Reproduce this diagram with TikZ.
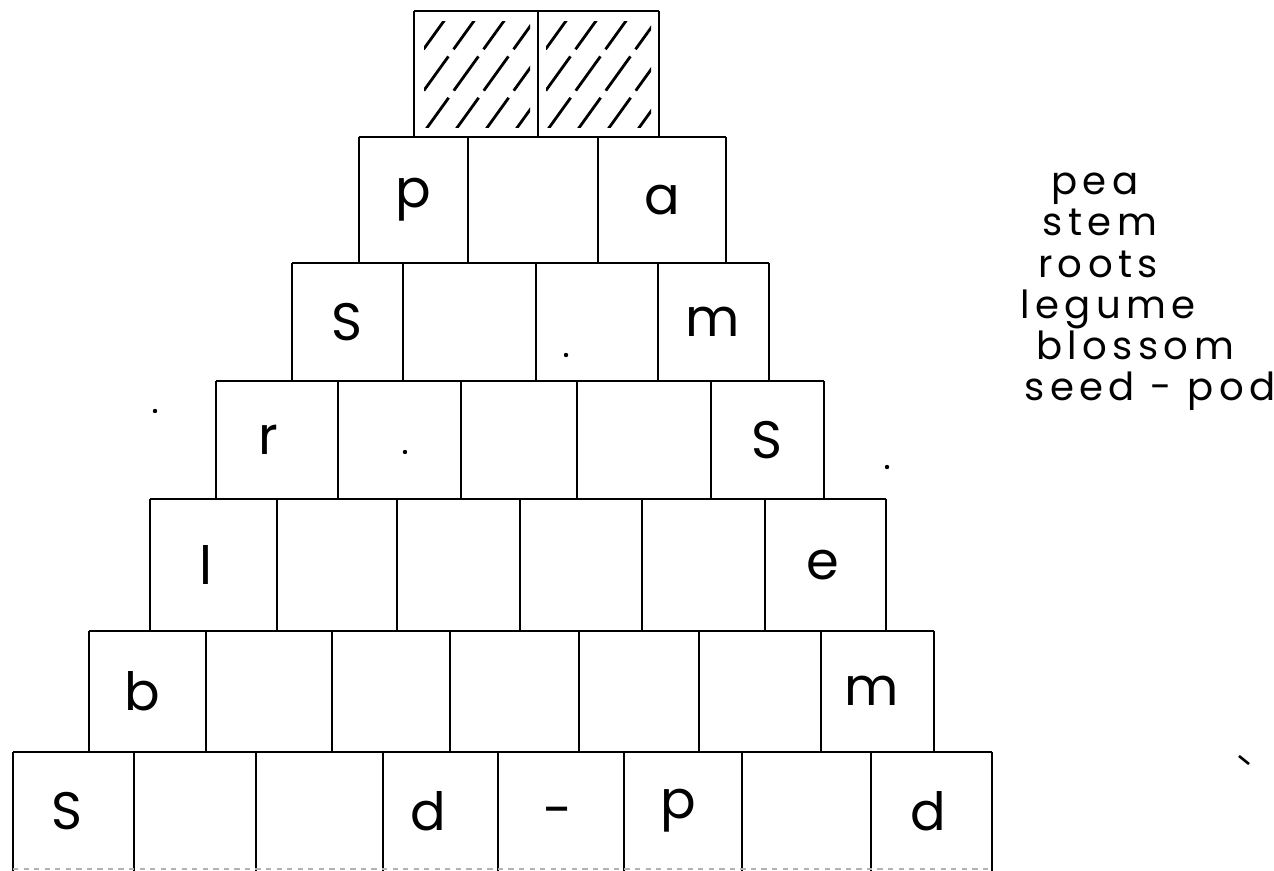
\documentclass[tikz,border=0pt]{standalone}
\usepackage{fontspec}
\usetikzlibrary{positioning}
\newfontfamily\handfont{Poppins}
\newfontfamily\listfont{Poppins}[LetterSpace=14]

\tikzset{
  cellline/.style={line width=1.4pt},
  letter/.style={font=\handfont\fontsize{30}{30}\selectfont, inner sep=0pt},
  word/.style={font=\listfont\fontsize{22}{22}\selectfont, inner sep=0pt, anchor=base},
  hatch/.style={line width=1.6pt, dash pattern=on 24pt off 5pt},
  speck/.style={fill=black, draw=none},
}

\begin{document}
\begin{tikzpicture}[x=0.02cm,y=-0.02cm]
\useasboundingbox (0,0) rectangle (1274,871);

% pyramid of cells: top / bottom / left / right / cell edges
\foreach \ya/\yb/\xl/\xr/\edges in {
    11/137/414/659/{414,538,659},
    137/263/359/726/{359,468,598,726},
    263/381/292/769/{292,403,536,658,769},
    381/499/216/824/{216,338,461,577,711,824},
    499/631/150/886/{150,277,397,520,642,765,886},
    631/752/89/934/{89,206,332,450,579,699,821,934},
    752/871/13/992/{13,134,256,383,498,624,742,871,992}}{
  \draw[cellline] (\xl,\ya) -- (\xr,\ya);
  \foreach \xx in \edges
    \draw[cellline] (\xx,\ya) -- (\xx,\yb);
}
\draw[cellline, gray!60, dashed] (13,869) -- (992,869);

% hatched top cells
\begin{scope}
  \clip (424,22) rectangle (530,128);
  \foreach \s in {334,364,...,540}
    \draw[hatch] (\s,132) -- ++(90,-125);
\end{scope}
\begin{scope}
  \clip (546,22) rectangle (651,128);
  \foreach \s in {456,486,...,660}
    \draw[hatch] (\s,132) -- ++(90,-125);
\end{scope}

% letters in the cells
\node[letter] (r2a) at (413,200) {p};
\node[letter] (r2c) at (662,200) {a};
\node[letter] (r3a) at (347,322) {S};
\node[letter] (r3d) at (713,322) {m};
\node[letter] (r4a) at (268,440) {r};
\node[letter] (r4e) at (767,440) {S};
\node[letter] (r5a) at (206,565) {l};
\node[letter] (r5f) at (823,565) {e};
\node[letter] (r6a) at (142,691) {b};
\node[letter] (r6g) at (872,691) {m};
\node[letter] (r7a) at (67,811) {S};
\node[letter] (r7d) at (428,811) {d};
\node[letter] (r7e) at (558,818) {-};
\node[letter] (r7f) at (678,811) {p};
\node[letter] (r7h) at (928,811) {d};

% word list
\node[word] (w1) at (1095,195) {pea};
\node[word] (w2) at (1100,236) {stem};
\node[word] (w3) at (1098,278) {roots};
\node[word] (w4) at (1108,318) {legume};
\node[word] (w5) at (1135,359) {blossom};
\node[word] (w6) at (1150,400) {seed - pod};

% specks
\fill[speck] (155,411) circle (2.2);
\fill[speck] (566,355) circle (2.2);
\fill[speck] (405,452) circle (2.2);
\fill[speck] (887,467) circle (2.2);
\draw[line width=1.5pt] (1239,756) -- (1249,764);
\end{tikzpicture}
\end{document}
